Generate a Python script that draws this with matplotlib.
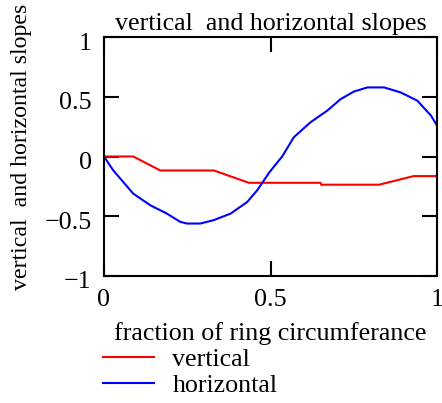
import numpy as np
import matplotlib.pyplot as plt
import matplotlib.transforms as mtransforms

# values
x_vert = [0, 0.088, 0.169, 0.33, 0.435, 0.65, 0.652, 0.826, 0.93, 1.0]
y_vert = [0, 0, -0.117, -0.117, -0.22, -0.22, -0.236, -0.236, -0.164, -0.164]

x_horiz = [0, 0.028, 0.058, 0.088, 0.139, 0.189, 0.229, 0.249, 0.289, 0.329,
           0.380, 0.430, 0.460, 0.497, 0.535, 0.570, 0.620, 0.670, 0.711,
           0.751, 0.791, 0.841, 0.891, 0.941, 0.982, 1.0]
y_horiz = [0, -0.117, -0.214, -0.311, -0.408, -0.478, -0.547, -0.561, -0.561,
           -0.533, -0.478, -0.381, -0.283, -0.131, 0, 0.161, 0.286, 0.383,
           0.481, 0.544, 0.578, 0.578, 0.536, 0.467, 0.342, 0.258]

xticks = [0, 0.5, 1]
yticks = [-1, -0.5, 0, 0.5, 1]

plt.rcParams['font.family'] = ['Liberation Serif', 'DejaVu Serif']
fs = 18.7

fig = plt.figure(figsize=(4.42, 4.03), dpi=100)
ax = fig.add_axes([104 / 442, 1 - 276 / 403, 333 / 442, 239 / 403])

l1, = ax.plot(x_vert, y_vert, color='red', lw=1.5, label='vertical')
l2, = ax.plot(x_horiz, y_horiz, color='blue', lw=1.5, label='horizontal')

ax.set_xlim(0, 1)
ax.set_ylim(-1, 1)
ax.set_xticks(xticks)
ax.set_xticklabels(['0', '0.5', '1'])
ax.set_yticks(yticks)
ax.set_yticklabels(['\u22121', '\u22120.5', '0', '0.5', '1'])
ax.tick_params(direction='in', length=11, width=1.5, labelsize=fs,
               top=True, right=True)
ax.tick_params(axis='y', pad=9)
ax.tick_params(axis='x', pad=9)
for s in ax.spines.values():
    s.set_linewidth(1.5)

# mathcad puts the y labels a little below the ticks
shift = mtransforms.ScaledTranslation(0, -4 / 100, fig.dpi_scale_trans)
for lab in ax.get_yticklabels():
    lab.set_transform(lab.get_transform() + shift)

ax.set_title('vertical  and horizontal slopes', fontsize=fs, pad=5)
ax.set_xlabel('fraction of ring circumferance', fontsize=fs, labelpad=8)
fig.text(22 / 442, 1 - 147 / 403, 'vertical  and horizontal slopes',
         rotation=90, fontsize=17.2, ha='center', va='center')

fig.legend(handles=[l1, l2], loc='upper left', bbox_to_anchor=(103 / 442, 1 - 348 / 403),
           frameon=False, fontsize=fs, handlelength=1.95, handletextpad=0.72,
           labelspacing=0.1, borderaxespad=0, borderpad=0)

fig.savefig('out.png', dpi=100)
